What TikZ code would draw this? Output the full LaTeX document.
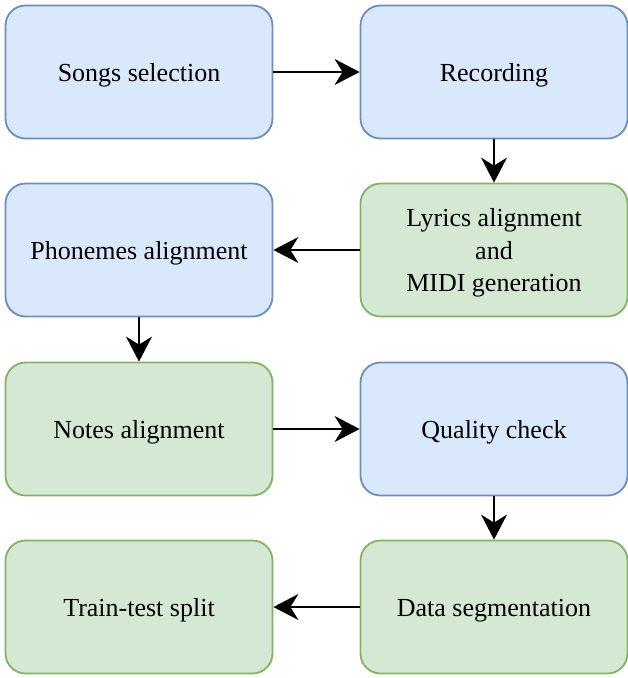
\documentclass[tikz,border=0pt]{standalone}
\usepackage{fontspec}
\setmainfont{Liberation Serif}
\newfontfamily\tnr{Liberation Serif}
\usetikzlibrary{arrows.meta}
\definecolor{bfill}{HTML}{DAE8FC}
\definecolor{bdraw}{HTML}{6C8EBF}
\definecolor{gfill}{HTML}{D5E8D4}
\definecolor{gdraw}{HTML}{82B366}
\tikzset{
  box/.style={rounded corners=20pt, minimum width=267pt, minimum height=133pt, line width=1.8pt, align=center, font=\tnr\fontsize{26}{32.5}\selectfont, inner sep=0pt},
  oneline/.style={text height=22pt, text depth=4pt},
  threeline/.style={text depth=-1pt},
  bluebox/.style={box, oneline, fill=bfill, draw=bdraw},
  greenbox/.style={box, oneline, fill=gfill, draw=gdraw},
  greenmulti/.style={box, threeline, fill=gfill, draw=gdraw},
  conn/.style={line width=2pt, -{Stealth[length=25pt,width=26pt,inset=8pt]}}
}
\begin{document}
\begin{tikzpicture}[x=1pt,y=-1pt]
\useasboundingbox (0,0) rectangle (628,678);
\node[bluebox] (songs) at (139,72) {Songs selection};
\node[bluebox] (rec) at (494,72) {Recording};
\node[greenmulti] (lyrics) at (494,250) {Lyrics alignment\\and\\MIDI generation};
\node[bluebox] (phon) at (139,250) {Phonemes alignment};
\node[greenbox] (notes) at (139,429) {Notes alignment};
\node[bluebox] (qc) at (494,429) {Quality check};
\node[greenbox] (seg) at (494,607) {Data segmentation};
\node[greenbox] (split) at (139,607) {Train-test split};
\draw[conn] (songs) -- (rec);
\draw[conn] (rec) -- (lyrics);
\draw[conn] (lyrics) -- (phon);
\draw[conn] (phon) -- (notes);
\draw[conn] (notes) -- (qc);
\draw[conn] (qc) -- (seg);
\draw[conn] (seg) -- (split);
\end{tikzpicture}
\end{document}
